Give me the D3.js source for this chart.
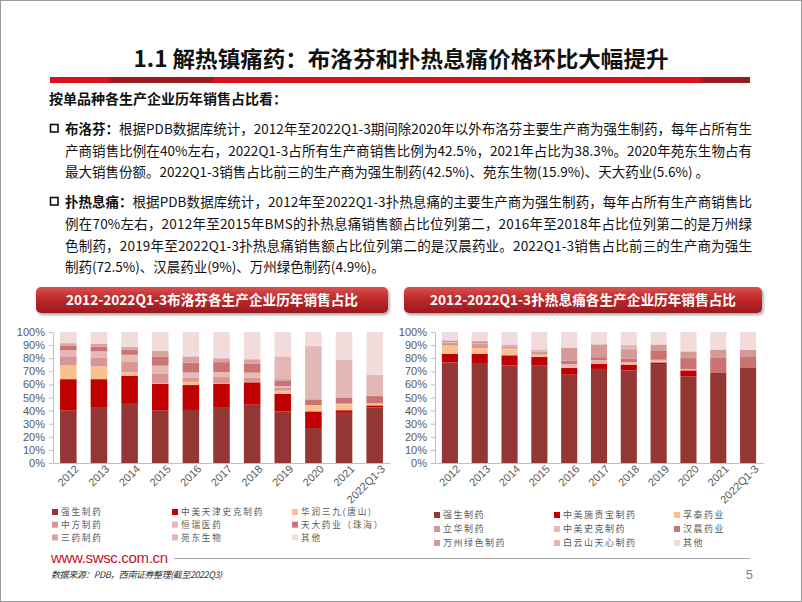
<!DOCTYPE html>
<html><head><meta charset="utf-8">
<script src="https://cdn.jsdelivr.net/npm/d3@7"></script>
<style>
html,body{margin:0;padding:0;background:#fff;}
svg{display:block;}
</style></head>
<body>
<svg id="slide" width="802" height="602"></svg>
<script>
// ---------------- DATA ----------------
const years = ["2012","2013","2014","2015","2016","2017","2018","2019","2020","2021","2022Q1-3"];
const yTickValues = [0,10,20,30,40,50,60,70,80,90,100];
const yTickLabels = ["0%","10%","20%","30%","40%","50%","60%","70%","80%","90%","100%"];

// 布洛芬 (ibuprofen) series, % share
const ibuNames = ["强生制药","中美天津史克制药","华润三九(唐山)","中方制药","恒瑞医药","天大药业（珠海）","三药制药","苑东生物","其他"];
const ibuQiangsheng = [40.0,42.7,45.8,40.0,40.5,42.7,44.5,39.4,26.7,38.3,42.5];
const ibuZhongmei   = [24.0,21.3,20.9,20.3,19.0,17.9,17.1,13.3,12.7,2.0,1.5];
const ibuHuarun     = [10.5,9.8,2.5,0.5,2.5,0.5,0.3,2.5,4.3,4.5,1.0];
const ibuZhongfang  = [7.0,6.4,8.4,7.6,3.3,4.5,3.3,2.5,0,0,0];
const ibuHengrui    = [4.5,5.0,5.0,5.9,3.8,3.8,3.8,1.0,0.5,0.5,0.5];
const ibuTianda     = [3.5,3.8,3.9,7.0,7.6,7.6,6.9,4.4,4.4,4.6,5.6];
const ibuSanyao     = [2.0,2.0,2.0,4.3,4.7,3.0,3.3,1.0,0,0.5,0.5];
const ibuYuandong   = [0,0,0,0,0,0,0,17.3,40.6,28.5,15.9];
const ibuOther      = [8.5,9.0,11.5,14.4,18.6,20.0,20.8,18.6,10.8,21.1,32.5];

// 扑热息痛 (paracetamol) series, % share
const apapNames = ["强生制药","中美施贵宝制药","孚泰药业","立华制药","中美史克制药","汉晨药业","万州绿色制药","白云山天心制药","其他"];
const apapQiangsheng = [76.8,76.3,74.6,74.3,67.4,71.8,70.7,75.5,66.2,68.7,72.5];
const apapShiguibao  = [6.4,6.9,7.6,6.6,5.1,4.0,4.4,1.3,4.5,0,0];
const apapFutai      = [6.5,4.6,5.1,1.8,0.5,0.5,0.3,0.5,0,0,0];
const apapLihua      = [2.0,3.0,1.8,2.5,0.8,0.7,0.5,0,0,0,0];
const apapShike      = [0.8,1.0,0.6,0.8,1.8,1.5,1.0,1.5,1.0,0,0];
const apapHanchen    = [0.6,0.8,0.6,0.5,2.5,2.3,3.0,6.7,8.4,11.5,9.0];
const apapWanzhou    = [0.5,0.5,0,0,10.0,9.5,7.0,5.0,5.1,6.4,4.9];
const apapBaiyun     = [0,0,0,0,0,0.5,3.4,0,0,0,0];
const apapOther      = [6.4,6.9,9.7,13.5,11.9,9.2,9.7,9.5,14.8,13.4,13.6];

// ---------------- STYLE ----------------
const ibuColors  = ["#943634","#C00000","#FAC090","#D99694","#E6B9B8","#C97473","#D9A3A2","#E3B7B6","#F1DCDB"];
const apapColors = ["#943634","#C00000","#FAC090","#D99694","#E6B9B8","#C97473","#D5999A","#E3B7B6","#F1DCDB"];
const CJK = "'Noto Sans CJK SC','Noto Sans',sans-serif";
const LAT = "'Liberation Sans',Arial,sans-serif";

const svg = d3.select("#slide");

// slide border
svg.append("rect").attr("x",0.5).attr("y",0.5).attr("width",801).attr("height",601)
  .attr("fill","none").attr("stroke","#9a9a9a");

// Title
svg.append("text").attr("x",401).attr("y",67).attr("text-anchor","middle")
  .attr("font-family",CJK).attr("font-weight",700).attr("font-size",22)
  .attr("textLength",535).attr("lengthAdjust","spacingAndGlyphs")
  .attr("fill","#111").text("1.1 解热镇痛药：布洛芬和扑热息痛价格环比大幅提升");

// red rule
svg.append("rect").attr("x",50).attr("y",77).attr("width",700).attr("height",6).attr("fill","#D7141D");
svg.append("polygon").attr("points","112,77 215,77 211,83 108,83").attr("fill","#9B1A1C");
svg.append("polygon").attr("points","704,77 750,77 750,83 700,83").attr("fill","#9B1A1C");

// header
svg.append("text").attr("x",49).attr("y",104).attr("font-family",CJK).attr("font-weight",700)
  .attr("font-size",14).attr("fill","#111").text("按单品种各生产企业历年销售占比看：");

// paragraphs
function para(lines, prefix, yStart, dy){
  svg.append("rect").attr("x",50.5).attr("y",yStart-9.5).attr("width",7.5).attr("height",7.5)
    .attr("fill","none").attr("stroke","#111").attr("stroke-width",1.6);
  const pre = svg.append("text").attr("x",65).attr("y",yStart).attr("font-family",CJK)
    .attr("font-weight",700).attr("font-size",13.5).attr("fill","#111").text(prefix);
  const preW = pre.node().getComputedTextLength();
  lines.forEach((ln,i)=>{
    const x0 = i===0 ? 65+preW : 65;
    const t = svg.append("text").attr("x",x0).attr("y",yStart+i*dy).attr("font-family",CJK)
      .attr("font-size",13.5).attr("fill","#111").text(ln.t);
    if(ln.full){ t.attr("textLength",752-x0).attr("lengthAdjust","spacing"); }
  });
}
para([
  {t:"根据PDB数据库统计，2012年至2022Q1-3期间除2020年以外布洛芬主要生产商为强生制药，每年占所有生",full:true},
  {t:"产商销售比例在40%左右，2022Q1-3占所有生产商销售比例为42.5%，2021年占比为38.3%。2020年苑东生物占有",full:true},
  {t:"最大销售份额。2022Q1-3销售占比前三的生产商为强生制药(42.5%)、苑东生物(15.9%)、天大药业(5.6%) 。",full:false}
],"布洛芬：",134,21.5);
para([
  {t:"根据PDB数据库统计，2012年至2022Q1-3扑热息痛的主要生产商为强生制药，每年占所有生产商销售比",full:true},
  {t:"例在70%左右，2012年至2015年BMS的扑热息痛销售额占比位列第二，2016年至2018年占比位列第二的是万州绿",full:true},
  {t:"色制药，2019年至2022Q1-3扑热息痛销售额占比位列第二的是汉晨药业。2022Q1-3销售占比前三的生产商为强生",full:true},
  {t:"制药(72.5%)、汉晨药业(9%)、万州绿色制药(4.9%)。",full:false}
],"扑热息痛：",207,21.8);

// banner gradient + shadow
const defs = svg.append("defs");
const g = defs.append("linearGradient").attr("id","ban").attr("x1",0).attr("y1",0).attr("x2",0).attr("y2",1);
g.append("stop").attr("offset","0%").attr("stop-color","#D9524F");
g.append("stop").attr("offset","45%").attr("stop-color","#C0282B");
g.append("stop").attr("offset","100%").attr("stop-color","#9A1B1E");
const f = defs.append("filter").attr("id","sh").attr("x","-5%").attr("y","-20%").attr("width","110%").attr("height","160%");
f.append("feDropShadow").attr("dx",1.5).attr("dy",2).attr("stdDeviation",1.5).attr("flood-color","#000").attr("flood-opacity",0.35);

function banner(x,w,label,tl){
  svg.append("rect").attr("x",x).attr("y",287).attr("width",w).attr("height",26).attr("rx",5)
    .attr("fill","url(#ban)").attr("filter","url(#sh)");
  svg.append("text").attr("x",x+w/2).attr("y",305).attr("text-anchor","middle")
    .attr("font-family",CJK).attr("font-weight",700).attr("font-size",14).attr("fill","#fff")
    .attr("textLength",tl).attr("lengthAdjust","spacingAndGlyphs").text(label);
}
banner(36,352,"2012-2022Q1-3布洛芬各生产企业历年销售占比",292);
banner(404,358,"2012-2022Q1-3扑热息痛各生产企业历年销售占比",306);

// charts
function chart(opts){
  const {x0,x1,names,series,colors,legX,legY,legDy,legFont,legSpace} = opts;
  const yTop=332, yBot=463;
  const x = d3.scaleBand().domain(years).range([x0,x1]).paddingInner(0.46).paddingOuter(0.23);
  const y = d3.scaleLinear().domain([0,100]).range([yBot,yTop]);
  const table = years.map((yr,i)=>{ const o={year:yr}; names.forEach((n,k)=>o[n]=series[k][i]); return o; });
  const stack = d3.stack().keys(names)(table);
  const gC = svg.append("g");
  stack.forEach((layer,k)=>{
    gC.append("g").attr("fill",colors[k]).selectAll("rect").data(layer).join("rect")
      .attr("x",d=>x(d.data.year)).attr("width",x.bandwidth())
      .attr("y",d=>y(d[1])).attr("height",d=>Math.max(0,y(d[0])-y(d[1])));
  });
  // y axis
  const ya = d3.axisLeft(y).tickValues(yTickValues).tickFormat((d,i)=>yTickLabels[i]).tickSize(4).tickSizeOuter(0).tickPadding(4);
  const gy = svg.append("g").attr("transform",`translate(${x0},0)`).call(ya);
  gy.select(".domain").attr("stroke","#BFBFBF");
  gy.selectAll(".tick line").attr("stroke","#BFBFBF");
  gy.selectAll("text").attr("font-family",LAT).attr("font-size",11).attr("fill","#595959");
  // x axis
  const xa = d3.axisBottom(x).tickSize(0).tickSizeOuter(0).tickPadding(6);
  const gx = svg.append("g").attr("transform",`translate(0,${yBot})`).call(xa);
  gx.select(".domain").attr("stroke","#BFBFBF");
  gx.selectAll("text").attr("font-family",LAT).attr("font-size",11).attr("fill","#595959")
    .attr("text-anchor","end").attr("dx","0.3em").attr("dy","0.6em")
    .attr("transform","rotate(-45)");
  // legend
  names.forEach((n,k)=>{
    const col=k%3, row=Math.floor(k/3);
    const lx = legX+col*120, ly = legY+row*legDy;
    svg.append("rect").attr("x",lx).attr("y",ly-3).attr("width",6).attr("height",6).attr("fill",colors[k]);
    svg.append("text").attr("x",lx+9).attr("y",ly+3.2).attr("font-family",CJK).attr("font-size",legFont)
      .attr("letter-spacing",legSpace).attr("fill","#595959").text(n);
  });
}
chart({x0:53,x1:390,names:ibuNames,
  series:[ibuQiangsheng,ibuZhongmei,ibuHuarun,ibuZhongfang,ibuHengrui,ibuTianda,ibuSanyao,ibuYuandong,ibuOther],
  colors:ibuColors,legX:52,legY:512,legDy:12.7,legFont:8.6,legSpace:1.8});
chart({x0:435,x1:763,names:apapNames,
  series:[apapQiangsheng,apapShiguibao,apapFutai,apapLihua,apapShike,apapHanchen,apapWanzhou,apapBaiyun,apapOther],
  colors:apapColors,legX:434,legY:515,legDy:14,legFont:9,legSpace:1.5});

// footer
svg.append("text").attr("x",51).attr("y",563).attr("font-family",LAT).attr("font-size",15)
  .attr("fill","#C8102E").attr("textLength",117).text("www.swsc.com.cn");
svg.append("line").attr("x1",174).attr("x2",750).attr("y1",558.5).attr("y2",558.5)
  .attr("stroke","#A6A6A6").attr("stroke-width",1);
svg.append("text").attr("x",51).attr("y",578).attr("font-family",CJK).attr("font-size",9)
  .attr("font-style","italic").attr("fill","#333").attr("textLength",171)
  .text("数据来源：PDB，西南证券整理(截至2022Q3)");
svg.append("text").attr("x",753).attr("y",579).attr("text-anchor","end").attr("font-family",LAT)
  .attr("font-size",13).attr("fill","#7F7F7F").text("5");
</script>
</body></html>
